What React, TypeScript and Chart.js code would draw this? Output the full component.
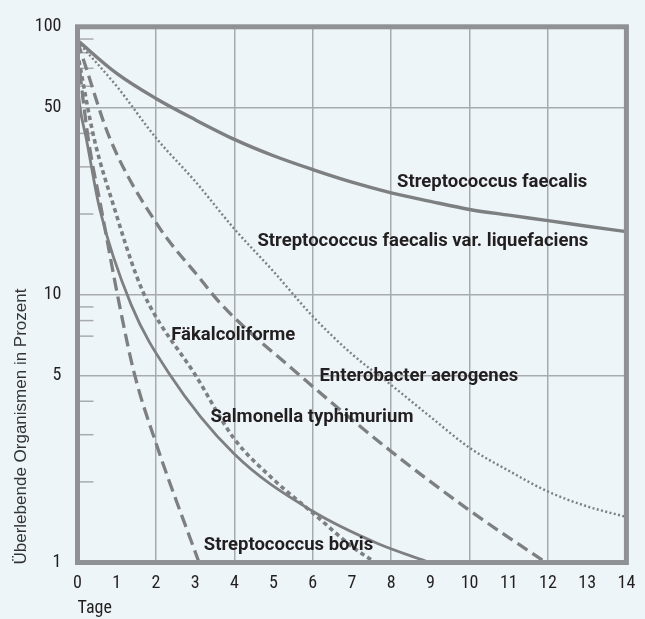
import React, { useEffect, useRef } from 'react';
import { Chart, registerables } from 'chart.js';

Chart.register(...registerables);

// ---- axis data ----
const xTickLabels = ['0', '1', '2', '3', '4', '5', '6', '7', '8', '9', '10', '11', '12', '13', '14'];
const xGridDays = [2, 4, 6, 8, 10, 12];
const yTickValues = [1, 5, 10, 50, 100];
const yGridValues = [5, 10, 50];
const minorTickValues = [2, 3, 4, 7, 8, 9, 20, 30, 40, 60, 70, 80, 90];
const xTitle = 'Tage';
const yTitle = 'Überlebende Organismen in Prozent';

// ---- series ----
const faecalisDays = [0, 1, 2, 3, 4, 5, 6, 7, 8, 9, 10, 11, 12, 13, 14];
const faecalisValues = [89, 67, 54, 45, 38, 33, 29.3, 26.3, 24, 22.3, 20.8, 19.8, 18.9, 18, 17.2];

const liquefaciensDays = [0, 1, 2, 3, 4, 5, 6, 7, 8, 9, 10, 11, 12, 13, 14];
const liquefaciensValues = [88, 60, 38.5, 26.5, 17.6, 12.2, 8.3, 6.0, 4.6, 3.5, 2.68, 2.2, 1.84, 1.62, 1.48];

const enterobacterDays = [0, 0.15, 0.82, 2.02, 3.1, 3.68, 5.62, 7.97, 9.96, 11.94];
const enterobacterValues = [88, 75.5, 38.5, 18.4, 11.6, 9.16, 5.07, 2.62, 1.58, 1];

const faekalDays = [0, 0.42, 0.95, 1.5, 1.83, 3.01, 3.98, 5, 5.98, 7.06, 7.6];
const faekalValues = [80, 38.5, 20.8, 11.8, 9.16, 5.0, 2.92, 2.04, 1.54, 1.13, 1];

const salmonellaDays = [0, 0.06, 0.22, 0.57, 1.37, 2.34, 4.0, 5.98, 7.64, 8.98];
const salmonellaValues = [62, 50.4, 38.5, 20.8, 9.16, 5.07, 2.54, 1.56, 1.18, 1];

const bovisDays = [0, 0.27, 0.61, 1.07, 1.45, 2.02, 3.1];
const bovisValues = [80, 38.5, 20.8, 9.16, 5.07, 2.74, 1];

// ---- curve labels ----
const labelTexts = [
  'Streptococcus faecalis',
  'Streptococcus faecalis var. liquefaciens',
  'Fäkalcoliforme',
  'Enterobacter aerogenes',
  'Salmonella typhimurium',
  'Streptococcus bovis',
];
const labelDays = [8.15, 4.59, 2.39, 6.17, 3.39, 3.22];
const labelValues = [26.3, 15.85, 7.07, 4.95, 3.47, 1.16];

const BG = '#edf5f8';
const LINE = '#7d7f81';
const FRAME = '#8f9194';
const GRID = '#a8abae';
const TEXT = '#231f20';
const TICK_FONT = "'Liberation Sans Narrow', 'Roboto Condensed', 'DejaVu Sans Condensed', Roboto";

const pts = (d: number[], v: number[]) => d.map((x, i) => ({ x, y: v[i] }));

const decorPlugin = {
  id: 'decor',
  beforeDatasetsDraw(chart: any) {
    const { ctx, chartArea, scales } = chart;
    const y = scales.y;
    ctx.save();
    ctx.strokeStyle = GRID;
    ctx.lineWidth = 1.5;
    minorTickValues.forEach((v) => {
      const py = y.getPixelForValue(v);
      ctx.beginPath();
      ctx.moveTo(chartArea.left, py);
      ctx.lineTo(chartArea.left + 16, py);
      ctx.stroke();
    });
    ctx.restore();
  },
  afterDatasetsDraw(chart: any) {
    const { ctx, chartArea, scales } = chart;
    const { x, y } = scales;
    ctx.save();
    ctx.strokeStyle = FRAME;
    ctx.lineWidth = 5;
    ctx.strokeRect(chartArea.left, chartArea.top, chartArea.right - chartArea.left, chartArea.bottom - chartArea.top);
    ctx.fillStyle = TEXT;
    ctx.font = 'bold 18.5px Roboto';
    ctx.textAlign = 'left';
    ctx.textBaseline = 'middle';
    labelTexts.forEach((t, i) => {
      ctx.fillText(t, x.getPixelForValue(labelDays[i]), y.getPixelForValue(labelValues[i]));
    });
    // y axis title (bottom aligned, rotated)
    ctx.translate(21.5, chartArea.bottom + 2);
    ctx.rotate(-Math.PI / 2);
    ctx.fillStyle = '#333333';
    ctx.font = "17px 'Liberation Sans', Arial, sans-serif";
    ctx.textAlign = 'left';
    ctx.textBaseline = 'middle';
    ctx.fillText(yTitle, 0, 0);
    ctx.restore();
  },
};

export default function App() {
  const ref = useRef<HTMLCanvasElement>(null);

  useEffect(() => {
    document.body.style.margin = '0';
    document.body.style.background = BG;
    const common = { borderColor: LINE, pointRadius: 0, pointHoverRadius: 0, pointHitRadius: 0, cubicInterpolationMode: 'monotone' as const, fill: false };
    const chart = new Chart(ref.current!, {
      type: 'line',
      data: {
        datasets: [
          { ...common, label: 'Streptococcus faecalis', data: pts(faecalisDays, faecalisValues), borderWidth: 3.4 },
          { ...common, label: 'Streptococcus faecalis var. liquefaciens', data: pts(liquefaciensDays, liquefaciensValues), borderWidth: 2.4, borderDash: [2, 2.4] },
          { ...common, label: 'Enterobacter aerogenes', data: pts(enterobacterDays, enterobacterValues), borderWidth: 3.3, borderDash: [12, 6] },
          { ...common, label: 'Fäkalcoliforme', data: pts(faekalDays, faekalValues), borderWidth: 3.6, borderDash: [4.5, 3.5] },
          { ...common, label: 'Salmonella typhimurium', data: pts(salmonellaDays, salmonellaValues), borderWidth: 2.8 },
          { ...common, label: 'Streptococcus bovis', data: pts(bovisDays, bovisValues), borderWidth: 3.3, borderDash: [13, 6] },
        ],
      },
      options: {
        responsive: false,
        animation: false,
        layout: { autoPadding: false, padding: { top: 16.7, right: 13.5, left: 0, bottom: 0 } },
        plugins: { legend: { display: false }, tooltip: { enabled: false } },
        scales: {
          x: {
            type: 'linear',
            min: 0,
            max: 14,
            afterFit: (s: any) => { s.height = 56.5; },
            afterBuildTicks: (s: any) => { s.ticks = xTickLabels.map((l) => ({ value: Number(l) })); },
            ticks: {
              padding: 9.7,
              color: TEXT,
              font: { family: TICK_FONT, size: 18 },
              callback: (v: any) => String(v),
              maxRotation: 0,
              autoSkip: false,
            },
            grid: {
              drawTicks: false,
              lineWidth: 1.5,
              color: (c: any) => (xGridDays.includes(c.tick?.value) ? GRID : 'rgba(0,0,0,0)'),
            },
            border: { display: false },
            title: {
              display: true,
              text: xTitle,
              align: 'start',
              color: TEXT,
              font: { family: TICK_FONT, size: 18 },
              padding: { top: 0, bottom: 0.2 },
            },
          },
          y: {
            type: 'logarithmic',
            min: 1,
            max: 100,
            afterFit: (s: any) => { s.width = 77.5; },
            afterBuildTicks: (s: any) => { s.ticks = yTickValues.map((v) => ({ value: v })); },
            ticks: {
              padding: 16,
              color: TEXT,
              font: { family: TICK_FONT, size: 18 },
              callback: (v: any) => String(v),
              autoSkip: false,
            },
            grid: {
              drawTicks: false,
              lineWidth: 1.5,
              color: (c: any) => (yGridValues.includes(c.tick?.value) ? GRID : 'rgba(0,0,0,0)'),
            },
            border: { display: false },
          },
        },
      },
      plugins: [decorPlugin],
    });
    return () => chart.destroy();
  }, []);

  return (
    <div style={{ position: 'fixed', left: 0, top: 0, width: 645, height: 619, background: BG }}>
      <canvas ref={ref} width={645} height={619} style={{ display: 'block' }} />
    </div>
  );
}
